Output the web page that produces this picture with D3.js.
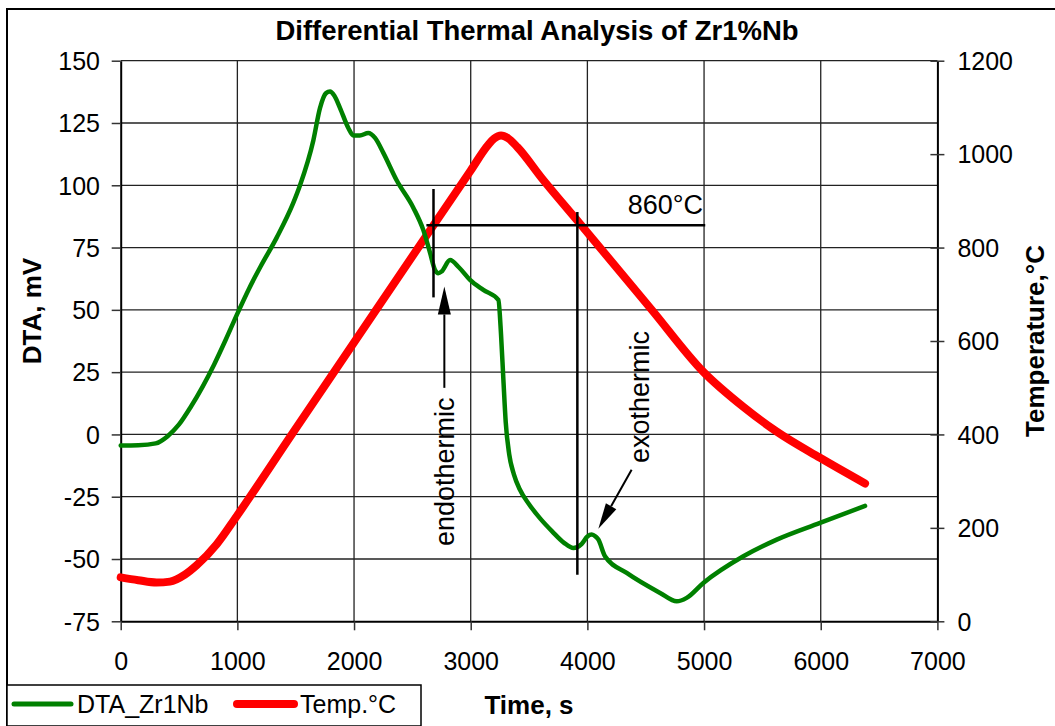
<!DOCTYPE html>
<html><head><meta charset="utf-8">
<script src="https://cdn.jsdelivr.net/npm/d3@7"></script>
<style>
body{margin:0;background:#fff}
svg{display:block}
text{font-family:"Liberation Sans",Arial,sans-serif;fill:#000}
</style>
</head><body>
<svg id="c" width="1055" height="726"></svg>
<script>
// ---------- data ----------
const dtaTime = [0,150,300,400,500,600,700,800,900,1000,1100,1200,1337,1480,1537,1651,1708,1760,1794,1830,1880,1951,1994,2050,2122,2180,2251,2365,2508,2594,2651,2694,2722,2751,2823,2900,2994,3108,3237,3260,3280,3300,3330,3370,3420,3500,3600,3700,3800,3880,3950,4000,4037,4070,4094,4151,4337,4623,4766,4851,4994,5337,5623,5994,6380];
const dtaValues = [-4.4,-4.3,-3.6,-0.8,4,11,19,28,38,48.5,58.5,67.5,79,93,100,118,131,137,137.6,136,131,123,120,120,121,119,113,102,91,82,73,66,64.7,65.4,70,67,62,58,54,40,22,5,-8,-16,-22,-28,-34,-39,-43.5,-45.6,-44,-41,-40.2,-41,-42.2,-48.9,-55.6,-63.6,-67,-65.6,-59.6,-48.9,-42.2,-35.5,-28.7];
const tempTime = [0,150,308,422,550,651,823,994,1466,2681,3000,3150,3200,3260,3320,3400,3608,3937,4551,4994,5337,5623,5994,6380];
const tempValues = [94,88,83,85,100,120,165,225,400,848,965,1020,1033,1040,1034,1015,949,851,667,534,459,406,350,295];

const xTicks = [0,1000,2000,3000,4000,5000,6000,7000];
const leftTicks = [-75,-50,-25,0,25,50,75,100,125,150];
const rightTicks = [0,200,400,600,800,1000,1200];

const seriesNames = ["DTA_Zr1Nb","Temp.°C"];
const seriesColors = ["#008000","#ff0000"];
const titleText = "Differential Thermal Analysis of Zr1%Nb";

// annotations (data units)
const markV1 = {t:2681, from:98.5, to:55};       // DTA units
const markV2 = {t:3914, from:89.3, to:-56.3};    // DTA units
const markH = {T:848, from:2620, to:5010};       // temperature units
const label860 = {t:4991, T:871, text:"860°C"};
const endoArrow = {t:2774, tipV:59.4, tailV:18.7};
const endoLabel = {t:2780, v:-15, text:"endothermic"};
const exoArrow = {t1:4379, v1:-14.2, t2:4094, v2:-37.9};
const exoLabel = {t:4451, v:15, text:"exothermic"};

// ---------- layout ----------
const svg = d3.select("#c");
const L = 120.7, R = 937.4, T = 60.7, B = 621.3;
const x = d3.scaleLinear().domain([0,7000]).range([L,R]);
const yL = d3.scaleLinear().domain([-75,150]).range([B,T]);
const yR = d3.scaleLinear().domain([0,1200]).range([B,T]);
const fmt = d => String(d);

// outer border
svg.append("rect").attr("x",7).attr("y",9).attr("width",1070).attr("height",740)
  .attr("fill","#fff").attr("stroke","#000").attr("stroke-width",2);

// gridlines
const grid = svg.append("g").attr("stroke","#222").attr("stroke-width",1.3);
leftTicks.filter(d=>d!==-75).forEach(d=>{
  grid.append("line").attr("x1",L).attr("x2",R).attr("y1",yL(d)).attr("y2",yL(d));
});
xTicks.filter(d=>d!==0 && d!==7000).forEach(d=>{
  grid.append("line").attr("x1",x(d)).attr("x2",x(d)).attr("y1",T).attr("y2",B);
});

// axes
const fs = 25;
const gL = svg.append("g").attr("transform",`translate(${L},0)`)
  .call(d3.axisLeft(yL).tickValues(leftTicks).tickSize(9).tickSizeOuter(0).tickFormat(fmt));
gL.selectAll("text").attr("x",-20.7).attr("dy","0.35em").style("font-size",fs+"px").style("font-family","Liberation Sans, Arial, sans-serif");

const gB = svg.append("g").attr("transform",`translate(0,${B})`)
  .call(d3.axisBottom(x).tickValues(xTicks).tickSize(9).tickSizeOuter(0).tickFormat(fmt));
gB.selectAll("text").attr("y",48.7).attr("dy",0).style("font-size",fs+"px").style("font-family","Liberation Sans, Arial, sans-serif");

const gR = svg.append("g").attr("transform",`translate(${R},0)`)
  .call(d3.axisRight(yR).tickValues(rightTicks).tickSize(7).tickSizeOuter(0).tickFormat(fmt));
gR.selectAll(".tick line").attr("x1",-7).attr("x2",7);
gR.selectAll("text").attr("x",20).attr("dy","0.35em").style("font-size",fs+"px").style("font-family","Liberation Sans, Arial, sans-serif");

[gL,gB,gR].forEach(g=>{
  g.selectAll(".domain").attr("stroke","#000").attr("stroke-width",2);
  g.selectAll(".tick line").attr("stroke","#333").attr("stroke-width",1.5);
  g.selectAll("text").attr("fill","#000");
});

// series
const lineDTA = d3.line().x((d,i)=>x(dtaTime[i])).y(d=>yL(d)).curve(d3.curveMonotoneX);
const lineTemp = d3.line().x((d,i)=>x(tempTime[i])).y(d=>yR(d)).curve(d3.curveMonotoneX);

svg.append("path").datum(tempValues).attr("d",lineTemp).attr("fill","none")
  .attr("stroke",seriesColors[1]).attr("stroke-width",8).attr("stroke-linecap","round").attr("stroke-linejoin","round");
svg.append("path").datum(dtaValues).attr("d",lineDTA).attr("fill","none")
  .attr("stroke",seriesColors[0]).attr("stroke-width",4.5).attr("stroke-linecap","round").attr("stroke-linejoin","round");

// annotations
const ann = svg.append("g").attr("stroke","#000");
ann.append("line").attr("x1",x(markV1.t)).attr("x2",x(markV1.t)).attr("y1",yL(markV1.from)).attr("y2",yL(markV1.to)).attr("stroke-width",2.5);
ann.append("line").attr("x1",x(markV2.t)).attr("x2",x(markV2.t)).attr("y1",yL(markV2.from)).attr("y2",yL(markV2.to)).attr("stroke-width",2.5);
ann.append("line").attr("x1",x(markH.from)).attr("x2",x(markH.to)).attr("y1",yR(markH.T)).attr("y2",yR(markH.T)).attr("stroke-width",2.5);

svg.append("text").attr("x",x(label860.t)).attr("y",yR(label860.T)).attr("text-anchor","end")
  .style("font-size","27px").text(label860.text);

function arrow(x1,y1,x2,y2,len,w){
  const a = Math.atan2(y2-y1,x2-x1);
  const bx = x2 - len*Math.cos(a), by = y2 - len*Math.sin(a);
  svg.append("line").attr("x1",x1).attr("y1",y1).attr("x2",bx).attr("y2",by).attr("stroke","#000").attr("stroke-width",2);
  const px = -Math.sin(a)*w/2, py = Math.cos(a)*w/2;
  svg.append("path").attr("d",`M${x2},${y2}L${bx+px},${by+py}L${bx-px},${by-py}Z`).attr("fill","#000");
}
arrow(x(endoArrow.t), yL(endoArrow.tailV), x(endoArrow.t), yL(endoArrow.tipV), 28, 13);
arrow(x(exoArrow.t1), yL(exoArrow.v1), x(exoArrow.t2), yL(exoArrow.v2), 26, 12);

svg.append("text").attr("transform",`translate(${x(endoLabel.t)+9},${yL(endoLabel.v)}) rotate(-90)`)
  .attr("text-anchor","middle").style("font-size","27px").text(endoLabel.text);
svg.append("text").attr("transform",`translate(${x(exoLabel.t)+9},${yL(exoLabel.v)}) rotate(-90)`)
  .attr("text-anchor","middle").style("font-size","27px").text(exoLabel.text);

// title & axis titles
svg.append("text").attr("x",537).attr("y",40).attr("text-anchor","middle")
  .style("font-size","27.5px").style("font-weight","bold").text(titleText);
svg.append("text").attr("x",529).attr("y",714).attr("text-anchor","middle")
  .style("font-size","26px").style("font-weight","bold").text("Time, s");
svg.append("text").attr("transform",`translate(41,${(T+B)/2 - 30}) rotate(-90)`).attr("text-anchor","middle")
  .style("font-size","26px").style("font-weight","bold").text("DTA, mV");
svg.append("text").attr("transform",`translate(1044,${(T+B)/2}) rotate(-90)`).attr("text-anchor","middle")
  .style("font-size","26px").style("font-weight","bold").text("Temperature,°C");

// legend
const lg = svg.append("g");
lg.append("rect").attr("x",7).attr("y",685).attr("width",414).attr("height",41).attr("fill","#fff").attr("stroke","#000").attr("stroke-width",1.5);
const legX = [14,237], legTX = [77,300], legW = [5,8];
seriesNames.forEach((n,i)=>{
  lg.append("line").attr("x1",legX[i]).attr("x2",legX[i]+57).attr("y1",704).attr("y2",704)
    .attr("stroke",seriesColors[i]).attr("stroke-width",legW[i]).attr("stroke-linecap","round");
  lg.append("text").attr("x",legTX[i]).attr("y",713).style("font-size","25px").text(n);
});
</script>
</body></html>
